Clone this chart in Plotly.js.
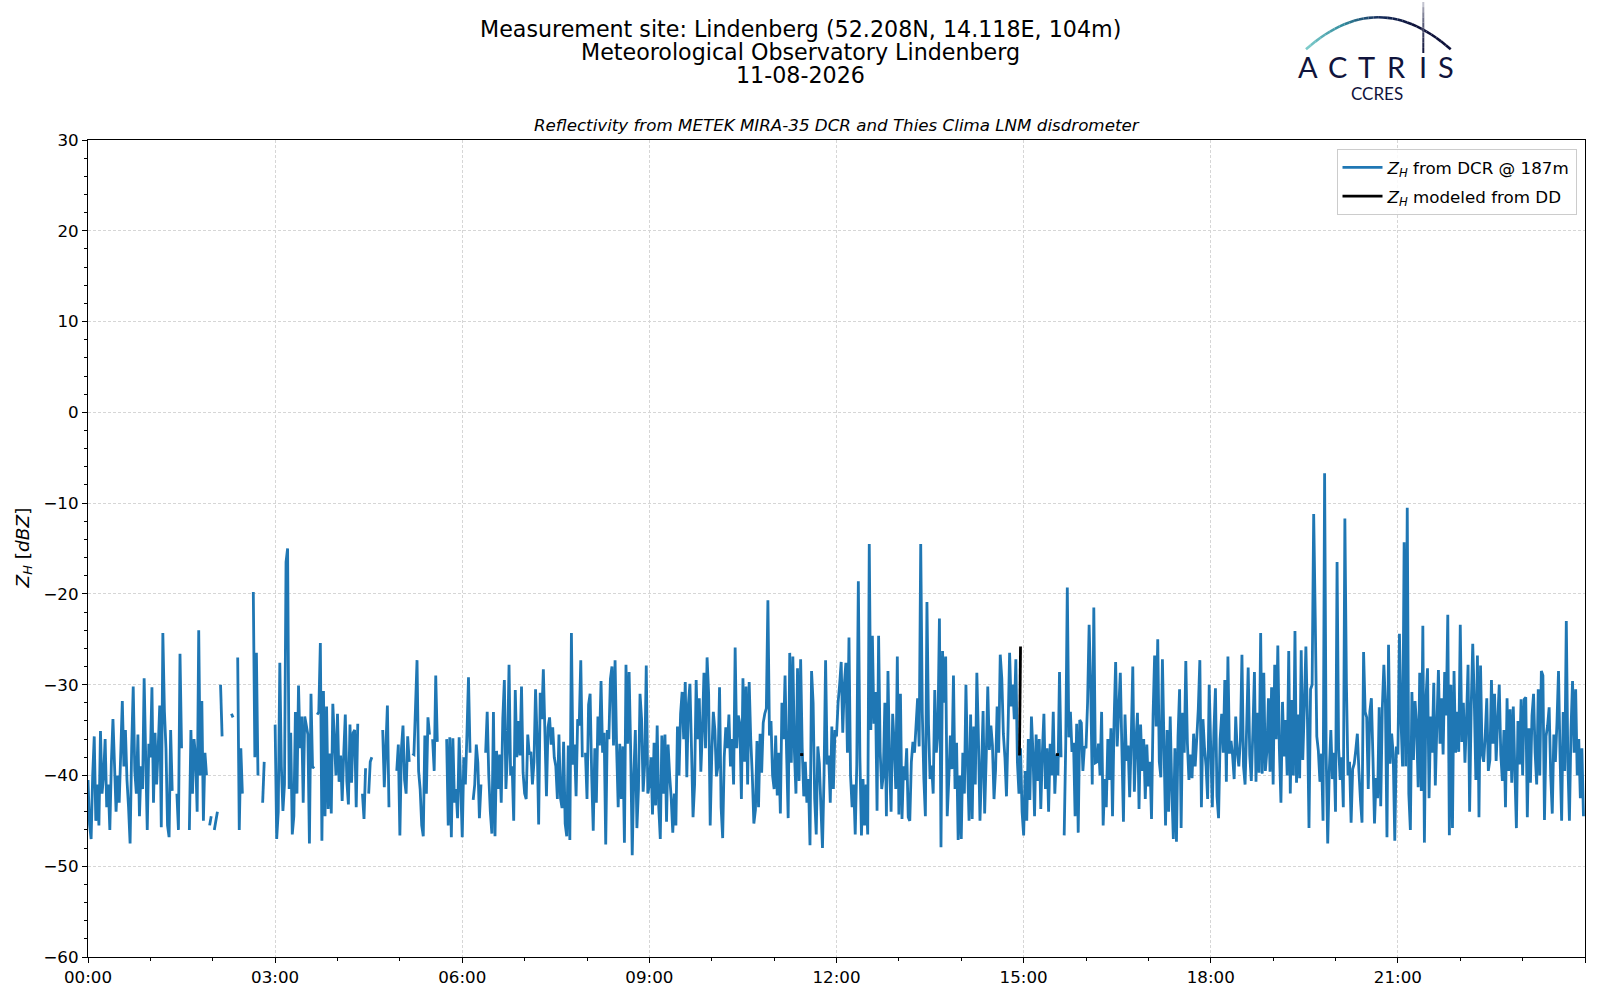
<!DOCTYPE html>
<html>
<head>
<meta charset="utf-8">
<script src="https://cdn.plot.ly/plotly-3.0.1.min.js"></script>
<style>
  html, body { margin: 0; padding: 0; background: #fff; }
  #chart { width: 1600px; height: 1000px; }
</style>
</head>
<body>
<div id="chart"></div>
<script>
// Z_H from the DCR @ 187m, one value every 1.5 min, one array per hour (null = no data)
const zh00 = [-40.5,-45.4,-47,-40,-35.7,-45,-41,-45.5,-35.1,-42,-40,-36,-43.5,-41,-46,-38.5,-33.8,-38.8,-44,-40,-43,-37.5,-31.8,-39,-35,-40.5,-43.5,-47.5,-37,-30.2,-39.5,-42,-35.5,-44.5,-39,-41.5,-29.3,-38,-46,-36.5];
const zh01 = [-38,-30.3,-43,-35.3,-41,-37,-32.3,-45.7,-24.3,-32.9,-37,-45.5,-46.8,-35,-41.7,null,null,-42,-46,-26.6,-37,null,null,null,null,-46,-35,-42,-36,-38,-44,-24,-40,-31.8,-45,-37.5,-40,null,-45.5,-44.5];
const zh02 = [null,-46,-45,-44,null,-30,-35.7,null,null,null,null,null,-33.2,-33.6,null,null,-27,-46,-37,-42,null,null,null,null,null,null,-19.8,-38,-26.5,-40,null,null,-43,-38.5,null,null,null,null,null,null];
const zh03 = [-34.4,-47,-44,-27.6,-39,-43.9,-41,-16.5,-15,-41.5,-35.3,-46.5,-44.5,-33,-42,-30.1,-37,-33.5,-43,-33.5,-34.5,-35.5,-47.5,-31,-39.2,-39,null,-33.3,-33,-25.4,-47.2,-30.7,-44.5,-32.4,-43.7,-37.6,-44.2,-32.1,-36,-40];
const zh04 = [-33.2,-40.7,-37.8,-42.8,-37.6,-33.3,-40.7,-43.2,-34.4,-40.8,-35.3,-35,-43.5,-34.3,null,null,-42,-44.8,-39.2,null,-42,-38.5,-38,null,null,null,null,null,null,-35,-41.3,-37,-32.3,-43.5,null,null,null,null,-39.5,-36.6];
const zh05 = [-46.6,-37,-34.5,-40.5,-42,-35.7,-38.5,null,-37.6,-37.7,-32.6,-27.3,-39.5,-41.5,-45.5,-46.7,-35.6,-42,-33.6,-35.5,null,-36,-39.5,-29,-36.3,null,null,null,null,null,-36,-45.5,-35.8,-46.8,-35.9,-43,-41.5,-44.7,-35.8,-41];
const zh06 = [-46.8,-38,-41,-35.5,-29.2,-37.5,null,-42.7,-41,-36.6,-38.6,-44.7,-41,null,null,-37.5,-33,-40,-44,-46.4,-33,-46.7,-37.3,-41.5,-37.7,-43,-33.7,-29.5,-41.5,-37.5,-27.8,-40,-39,-45,-30.6,-38,-34,-37.8,-30.2,-39.7];
const zh07 = [-42,-42.6,-35.5,-37.7,-37.4,-41,-38.5,-30.5,-36,-45.4,-30.9,-33.8,-28.3,-35.2,-42.3,-34.7,-33.6,-36.6,-34.7,-38,-39,-42.6,-35.5,-42.5,-43.6,-36.3,-45.3,-46.7,-36.7,-47.1,-24.3,-38.8,-36.6,-42.3,-33.8,-34.5,-27.3,-38,null,-37.5];
const zh08 = [-42.6,-32.2,-31,-40,-46.1,-37,-43,-33.5,-36.7,-29.6,-37.5,-35.3,-47.6,-35,-36,-29.4,-28,-36.7,-27.3,-37,-43.5,-36.5,-42.6,-36.8,-47.4,-27.8,-36.5,-28.6,-37.2,-48.8,-40,-35,-45.8,-41.5,-31,-33.8,-41.8,-38.7,-27.9,-42];
const zh09 = [-41,-38,-44.3,-36.4,-43.3,-34.5,-43.5,-47,-35.6,-42,-35.5,-45.1,-36.6,-40,-42.5,-46.3,-42,-45.5,-34.6,-40,-33.2,-30.8,-36,-29.7,-40.2,-32.2,-29.9,-37,-44.6,-41,-29.5,-36,-31.5,-39.6,-35,-28.7,-37,-27,-31,-45.5];
const zh10 = [-37.8,-33,-35,-40.1,-39,-30.3,-43.5,-46.9,-38,-34.7,-37,-33.3,-39,-36,-41,-25.9,-37,-33.4,-34.3,-42.6,-29.3,-38.5,-30.2,-41,-29.7,-36,-40,-45.3,-43.8,-36.2,-43.5,-35.4,-39.7,-34.2,-33.2,-32.6,-20.7,-35.6,-34,-40];
const zh11 = [-41.5,-35.6,-42.2,-37.5,-44.2,-32,-36,-29,-37.6,-44.7,-26.5,-38.6,-26.9,-37.4,-42,-28.2,-40.6,-27.2,-37,-42.3,-38.5,-43,-40.4,-47.7,-28.5,-32,-42.6,-46.5,-36.8,-38.7,-43.5,-48,-40,-27.3,-38.8,-37.8,-43,-34.6,-41.5,-35];
const zh12 = [-35.7,-32,-30,-27.5,-35.3,-30,-27.6,-37.5,-24.8,-40,-43.5,-41,-46.5,-38.8,-18.6,-38,-46.6,-40.4,-45.5,-41,-46.5,-14.5,-35,-24.6,-34.3,-30.8,-43.9,-24.6,-37.4,-41.5,-40,-32,-44.5,-28.5,-38.7,-44,-33.2,-36.6,-41.5,-26.9];
const zh13 = [-44.3,-31,-44.8,-39,-40.5,-37,-44.6,-45,-38.5,-36.3,-37.5,-34.5,-31.5,-36.8,-14.5,-33,-40.3,-44.5,-20.9,-34.4,-40.4,-38.9,-42,-30.6,-37.5,-35.3,-22.7,-47.9,-26.3,-32,-26.9,-44.5,-40.5,-35.6,-39.3,-29,-41.5,-36.4,-47.1,-40];
const zh14 = [-47,-37.5,-42,-30,-38.6,-45,-33.3,-44.8,-34.6,-41,-28.7,-35.8,-45,-39.3,-32.9,-44.2,-38,-30.2,-37.2,-34.5,-36.7,-42.6,-39.4,-32.4,-37.5,-26.7,-29.3,-35.4,-38,-42.3,-35,-26.5,-32.4,-30,-33.8,-27.2,-38.5,-42,-37,-44];
const zh15 = [-46.6,-39.5,-45,-36,-42.7,-33.5,-37.5,-44.5,-35.5,-40.6,-36,-43.7,-37.5,-33.2,-41.5,-37,-44,-36.5,-40,-33,-42,-37.7,-40,-28.6,-38,null,-46.6,-36.5,-19.3,-35.8,-33,-37.4,-36.4,-44.5,-34.3,-46.3,-33.9,-34.2,-39.5,-36.8];
const zh16 = [-37,-32,-23.4,-30.3,-41,-21.5,-38.6,-38.5,-36.5,-40,-33,-45.5,-40.4,-43.5,-36,-40.5,-34.8,-44.5,-34,-27.5,-36.8,-32.7,-28.7,-37,-45.1,-33.3,-38.4,-36.7,-42.4,-36,-28,-41.8,-36.3,-33.1,-43.7,-34.4,-39.5,-36,-42.6,-36.6];
const zh17 = [-41.2,-38.5,-44.8,-33.4,-26.8,-34.6,-25,-38.5,-40.2,-27.2,-36.6,-45.5,-35,-44,-33.5,-41.5,-47,-37,-47.3,-35.7,-30.5,-45.8,-33.1,-37.5,-27.4,-36.4,-40.5,-37.7,-40.3,-35.4,-39,-36,-32.7,-27.3,-43.5,-33.8,-37,-39,-42.6,-30];
const zh18 = [-37,-43.5,-35.2,-30.4,-42.3,-44.7,-36,-33.2,-37.5,-29.5,-40.7,-26.9,-37.6,-36.2,-37.8,-40.4,-33.5,-37.4,-39,-36.1,-26.7,-39,-41,-34.8,-28.1,-37.8,-40.6,-35.2,-28.6,-40.7,-33.1,-39.7,-24.3,-39.8,-28.7,-39.5,-37.3,-31.5,-39.6,-30.3];
const zh19 = [-41,-27.8,-36,-25.7,-37.1,-43,-31.9,-37.9,-33.9,-40,-26.3,-42,-31.7,-40,-24.1,-40.8,-33.3,-40.3,-26.2,-38.3,-32.4,-25.8,-33.8,-45.8,-30.5,-30,-11.2,-22.6,-35.7,-37.3,-40.7,-37.6,-45,-6.7,-37.6,-47.5,-39.5,-35,-40.4,-37.5];
const zh20 = [-44,-16.5,-37,-40.5,-38,-43.5,-11.7,-30,-40,-38.5,-45.2,-39.3,-38.7,-37.2,-35.4,-39.5,-42.7,-45.2,-26.4,-33,-33.6,-41.5,-33,-31.5,-38,-45.3,-40.3,-42.5,-32.5,-43.4,-32.6,-27.8,-32,-46.8,-25.6,-38.7,-35.4,-37.7,-47.2,-36.8];
const zh21 = [-37.7,-24.4,-34,-39,-14.3,-39,-10.5,-42,-46,-30.8,-38.3,-31.8,-34.4,-41.3,-28.7,-41.7,-23.5,-47.4,-31.5,-28.2,-42.5,-33.5,-37.5,-29.8,-41.1,-34.5,-28.4,-36.5,-31.5,-37.7,-28.6,-33.4,-22.3,-46.6,-30,-45.8,-28.5,-37.5,-33,-37.4];
const zh22 = [-23.4,-36.3,-32,-38.6,-33.9,-27.8,-44,-32.5,-25.5,-31.8,-40.5,-26.8,-44.6,-27.9,-37.6,-38.5,-35.6,-31.5,-39.5,-38.3,-29.5,-36.5,-31,-38.4,-34,-30,-37.7,-40.6,-35,-43.5,-31.5,-39.5,-32.7,-40.8,-32.4,-39.5,-45.8,-34,-38.8,-31.6];
const zh23 = [-40,-31.6,-31.4,-44.6,-34.8,-40.8,-33.4,-31,-37.5,-41,-30.5,-40,-28.5,-29,-44.9,-35.7,-34.5,-32.5,-40,-44.2,-35.5,-38.5,-34.2,-28.5,-38,-45,-33,-39.5,-23,-38.5,-45,-35,-29.6,-37.5,-30.5,-40,-36,-42.5,-37,-44.5];

// Z_H modeled from the disdrometer (only a few short pieces)
const ddTimes = ['11:25', '11:28', '11:29', '14:56', '14:57', '14:58', '15:31', '15:34'];
const ddValues = [-37.7, -37.7, null, -37.8, -25.8, null, -37.7, -37.7];

const day = '2026-08-11';
const stepSeconds = 90;

const dcrValues = [].concat(zh00, zh01, zh02, zh03, zh04, zh05, zh06, zh07, zh08, zh09, zh10, zh11,
                            zh12, zh13, zh14, zh15, zh16, zh17, zh18, zh19, zh20, zh21, zh22, zh23);

function pad(n) { return String(n).padStart(2, '0'); }
function stamp(i) {
  const s = i * stepSeconds;
  return day + ' ' + pad(Math.floor(s / 3600)) + ':' + pad(Math.floor(s % 3600 / 60)) + ':' + pad(s % 60);
}
const dcrTimes = dcrValues.map((v, i) => stamp(i));

// pixel -> paper helpers for the header / logo
const W = 1600, H = 1000, L = 88, R = 15, T = 140, B = 43;
const px = x => (x - L) / (W - L - R);
const py = y => (H - B - y) / (H - T - B);

const font = 'DejaVu Sans, sans-serif';
const navy = '#10143c';

var dcr = {
  x: dcrTimes,
  y: dcrValues,
  type: 'scatter',
  mode: 'lines',
  name: '<i>Z</i><sub><i>H</i></sub> from DCR @ 187m',
  legendgroup: 'dcr',
  line: { color: '#1f77b4', width: 2.8, simplify: false },
  connectgaps: false
};
var dd = {
  x: ddTimes.map(t => day + ' ' + t),
  y: ddValues,
  type: 'scatter',
  mode: 'lines',
  name: '<i>Z</i><sub><i>H</i></sub> modeled from DD',
  legendgroup: 'dd',
  line: { color: '#000000', width: 2.8 },
  connectgaps: false
};

// logo: arc with a teal -> navy gradient, made of short segments
function mix(a, b, t) { return 'rgb(' + a.map((v, i) => Math.round(v + (b[i] - v) * t)).join(',') + ')'; }
const arcStops = [[128, 206, 204], [50, 140, 158], [22, 45, 92], [14, 18, 58], [14, 18, 58]];
function arcColor(t) {
  const s = t * (arcStops.length - 1);
  const i = Math.min(Math.floor(s), arcStops.length - 2);
  return mix(arcStops[i], arcStops[i + 1], s - i);
}
const shapes = [];
const n = 30;
function bez(t) {
  return [(1 - t) * (1 - t) * 1306 + 2 * t * (1 - t) * 1378 + t * t * 1450.7,
          (1 - t) * (1 - t) * 49.3 + 2 * t * (1 - t) * (-14.7) + t * t * 49.3];
}
for (let i = 0; i < n; i++) {
  const a = bez(i / n), b = bez((i + 1) / n);
  shapes.push({ type: 'line', xref: 'paper', yref: 'paper',
    x0: px(a[0]), y0: py(a[1]), x1: px(b[0]), y1: py(b[1]),
    line: { color: arcColor((i + 0.5) / n), width: 2.6 } });
}
for (let i = 0; i < 10; i++) {
  const y0 = 2 + i * 5.1, y1 = y0 + 5.1;
  shapes.push({ type: 'line', xref: 'paper', yref: 'paper',
    x0: px(1423.3), y0: py(y0), x1: px(1423.3), y1: py(y1),
    line: { color: mix([245, 245, 248], [14, 18, 58], Math.pow((i + 0.5) / 10, 0.5)), width: 2 } });
}

const annotations = [
  { text: 'Measurement site: Lindenberg (52.208N, 14.118E, 104m)', x: px(800), y: py(29) },
  { text: 'Meteorological Observatory Lindenberg', x: px(800), y: py(52) },
  { text: '11-08-2026', x: px(800), y: py(75) }
].map(a => Object.assign(a, { xref: 'paper', yref: 'paper', showarrow: false,
  xanchor: 'center', yanchor: 'middle', font: { family: font, size: 22.2, color: '#000' } }));

annotations.push({ text: '<i>Reflectivity from METEK MIRA-35 DCR and Thies Clima LNM disdrometer</i>',
  xref: 'paper', yref: 'paper', x: 0.5, y: py(125), showarrow: false,
  xanchor: 'center', yanchor: 'middle', font: { family: font, size: 16.7, color: '#000' } });

annotations.push({ text: '<i>Z</i><sub><i>H</i></sub> [<i>dBZ</i>]',
  xref: 'paper', yref: 'paper', x: px(23), y: 0.5, textangle: -90, showarrow: false,
  xanchor: 'center', yanchor: 'middle', font: { family: font, size: 18.5, color: '#000' } });

const logoLetters = ['A', 'C', 'T', 'R', 'I', 'S'];
const logoX = [1308, 1337, 1366.7, 1396.7, 1423.3, 1445.7];
logoLetters.forEach((ch, i) => annotations.push({ text: ch, xref: 'paper', yref: 'paper',
  x: px(logoX[i]), y: py(66.5), showarrow: false, xanchor: 'center', yanchor: 'middle',
  font: { family: 'Lato, Open Sans, sans-serif', size: 29, color: navy } }));
annotations.push({ text: 'CCRES', xref: 'paper', yref: 'paper', x: px(1376.7), y: py(93.5),
  showarrow: false, xanchor: 'center', yanchor: 'middle',
  font: { family: 'Lato, Open Sans, sans-serif', size: 17, color: navy } });

var layout = {
  width: W,
  height: H,
  margin: { l: L, r: R, t: T, b: B },
  paper_bgcolor: '#ffffff',
  plot_bgcolor: '#ffffff',
  font: { family: font, size: 16.7, color: '#000' },
  showlegend: true,
  legend: {
    x: px(1576.5), y: py(149), xanchor: 'right', yanchor: 'top',
    bgcolor: 'rgba(255,255,255,0.85)', bordercolor: '#cccccc', borderwidth: 1,
    traceorder: 'grouped', tracegroupgap: 4, itemwidth: 40,
    font: { family: font, size: 16.7, color: '#000' }
  },
  xaxis: {
    type: 'date',
    range: [day + ' 00:00:00', day + ' 23:59:59'],
    tick0: day + ' 00:00:00',
    dtick: 3 * 3600000,
    tickformat: '%H:%M',
    ticks: 'outside', ticklen: 5, tickwidth: 1, tickcolor: '#000',
    showline: true, linecolor: '#000', linewidth: 1.1, mirror: true,
    showgrid: true, gridcolor: '#d6d6d6', gridwidth: 0.8, griddash: '3px,2px',
    zeroline: false,
    minor: { dtick: 3600000, ticks: 'outside', ticklen: 3, tickcolor: '#000', showgrid: false },
    tickfont: { family: font, size: 16.7, color: '#000' }
  },
  yaxis: {
    range: [-60, 30],
    dtick: 10,
    ticks: 'outside', ticklen: 5, tickwidth: 1, tickcolor: '#000',
    showline: true, linecolor: '#000', linewidth: 1.1, mirror: true,
    showgrid: true, gridcolor: '#d6d6d6', gridwidth: 0.8, griddash: '3px,2px',
    zeroline: false,
    minor: { dtick: 2, ticks: 'outside', ticklen: 3, tickcolor: '#000', showgrid: false },
    tickfont: { family: font, size: 16.7, color: '#000' }
  },
  shapes: shapes,
  annotations: annotations
};

Plotly.newPlot('chart', [dcr, dd], layout, { displayModeBar: false, responsive: false });
</script>
</body>
</html>
